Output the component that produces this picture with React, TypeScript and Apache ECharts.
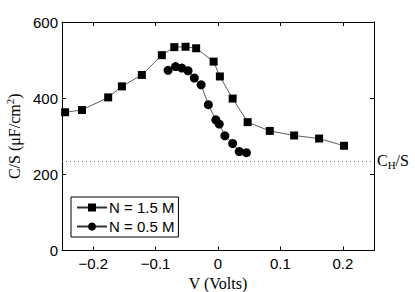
import React, { useEffect, useRef } from "react";
import * as echarts from "echarts";

const v15 = [-0.245, -0.218, -0.176, -0.154, -0.122, -0.09, -0.07, -0.052, -0.035, -0.007, 0.003, 0.0235, 0.0475, 0.083, 0.122, 0.162, 0.202];
const c15 = [363, 369, 402, 431, 461, 513, 534, 535, 531, 496, 457, 399, 337, 314, 302, 294, 275];
const v05 = [-0.08, -0.068, -0.058, -0.048, -0.038, -0.027, -0.0155, -0.0035, 0.002, 0.011, 0.0235, 0.034, 0.0455];
const c05 = [473, 483, 479, 472, 453, 435, 383, 343, 332, 301, 281, 260, 257];
const chLevel = 235.5;
const xTicks = [-0.2, -0.1, 0, 0.1, 0.2];

const sans = "'Liberation Sans', Arial, Helvetica, sans-serif";
const serif = "'Liberation Serif', 'Times New Roman', serif";

export default function App() {
  const ref = useRef<HTMLDivElement>(null);
  useEffect(() => {
    const chart = echarts.init(ref.current!, null, { renderer: "svg" });
    const fmtX = (v: number) => {
      const r = Math.round(v * 10) / 10;
      if (!xTicks.some((t) => Math.abs(t - r) < 1e-9)) return "";
      return r === 0 ? "0" : String(r).replace("-", "\u2212");
    };
    const axisLine = { show: true, onZero: false, lineStyle: { color: "#000", width: 1 } };
    chart.setOption({
      animation: false,
      backgroundColor: "#fff",
      grid: { left: 62, right: 41, top: 22, bottom: 41.5, outerBoundsMode: "none", containLabel: false },
      legend: {
        orient: "vertical",
        left: 71,
        top: 197,
        backgroundColor: "#fff",
        borderColor: "#000",
        borderWidth: 1,
        padding: [3, 4, 3, 5],
        itemGap: 4,
        itemWidth: 30,
        itemHeight: 10,
        textStyle: { fontFamily: sans, fontSize: 15, color: "#000", padding: [0, 0, 0, -3] },
        data: ["N = 1.5 M", "N = 0.5 M"],
      },
      xAxis: [
        {
          type: "value",
          min: -0.25,
          max: 0.25,
          interval: 0.05,
          name: "V (Volts)",
          nameLocation: "middle",
          nameGap: 20,
          nameTextStyle: { fontFamily: serif, fontSize: 16, color: "#000", verticalAlign: "top" },
          axisLine,
          axisTick: { show: true, inside: true, length: 4, lineStyle: { color: "#000" }, customValues: xTicks },
          axisLabel: { fontFamily: sans, fontSize: 15, color: "#000", margin: 5, customValues: xTicks, formatter: fmtX },
          splitLine: { show: false },
        },
        {
          type: "value",
          position: "top",
          min: -0.25,
          max: 0.25,
          interval: 0.05,
          axisLine,
          axisTick: { show: true, inside: true, length: 4, lineStyle: { color: "#000" }, customValues: xTicks },
          axisLabel: { show: false },
          splitLine: { show: false },
        },
      ],
      yAxis: [
        {
          type: "value",
          min: 0,
          max: 600,
          interval: 200,
          name: "C/S (\u03bcF/cm{sup|2})",
          nameLocation: "middle",
          nameGap: 34,
          nameTextStyle: {
            fontFamily: serif,
            fontSize: 16,
            color: "#000",
            rich: { sup: { fontFamily: serif, fontSize: 11, verticalAlign: "top", padding: [0, 0, 8, 0] } },
          },
          axisLine,
          axisTick: { show: true, inside: true, length: 4, lineStyle: { color: "#000" } },
          axisLabel: { fontFamily: sans, fontSize: 15, color: "#000", margin: 4 },
          splitLine: { show: false },
        },
        {
          type: "value",
          position: "right",
          min: 0,
          max: 600,
          interval: 200,
          axisLine,
          axisTick: { show: true, inside: true, length: 4, lineStyle: { color: "#000" } },
          axisLabel: { show: false },
          splitLine: { show: false },
        },
      ],
      series: [
        {
          name: "N = 1.5 M",
          type: "line",
          data: v15.map((v, i) => [v, c15[i]]),
          symbol: "rect",
          symbolSize: 8,
          itemStyle: { color: "#000" },
          lineStyle: { color: "#333", width: 0.8 },
          markLine: {
            silent: true,
            symbol: "none",
            lineStyle: { color: "#777", type: [1, 3], width: 1 },
            label: {
              show: true,
              position: "end",
              distance: 3,
              formatter: "C{sub|H}/S",
              fontFamily: serif,
              fontSize: 16,
              color: "#000",
              rich: { sub: { fontFamily: serif, fontSize: 11, verticalAlign: "bottom", padding: [8, 0, 0, 0] } },
            },
            data: [{ yAxis: chLevel }],
          },
        },
        {
          name: "N = 0.5 M",
          type: "line",
          data: v05.map((v, i) => [v, c05[i]]),
          symbol: "circle",
          symbolSize: 9,
          itemStyle: { color: "#000" },
          lineStyle: { color: "#333", width: 0.8 },
        },
      ],
    });
    return () => chart.dispose();
  }, []);
  return <div ref={ref} style={{ width: 415, height: 292, position: "absolute", left: 0, top: 0 }} />;
}
